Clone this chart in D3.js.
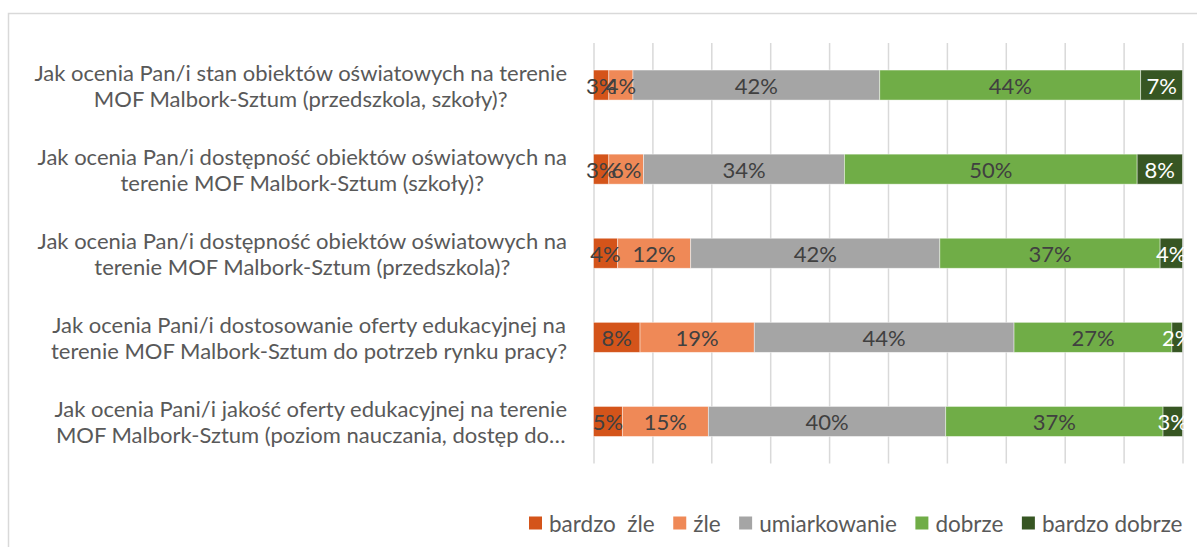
<!DOCTYPE html>
<html>
<head>
<meta charset="utf-8">
<script src="https://cdn.jsdelivr.net/npm/d3@7"></script>
<style>
  html, body { margin: 0; padding: 0; background: #fff; }
  svg { display: block; }
  text { font-family: Lato, "Liberation Sans", sans-serif; }
</style>
</head>
<body>
<svg id="chart" width="1197" height="547"></svg>
<script>
const categories = [
  "Jak ocenia Pan/i stan obiektów oświatowych na terenie\nMOF Malbork-Sztum (przedszkola, szkoły)?",
  "Jak ocenia Pan/i dostępność obiektów oświatowych na\nterenie MOF Malbork-Sztum (szkoły)?",
  "Jak ocenia Pan/i dostępność obiektów oświatowych na\nterenie MOF Malbork-Sztum (przedszkola)?",
  "Jak ocenia Pani/i dostosowanie oferty edukacyjnej na\nterenie MOF Malbork-Sztum do potrzeb rynku pracy?",
  "Jak ocenia Pani/i jakość oferty edukacyjnej na terenie\nMOF Malbork-Sztum (poziom nauczania, dostęp do…"
];
const seriesNames = ["bardzo  źle", "źle", "umiarkowanie", "dobrze", "bardzo dobrze"];
const bardzoZle    = [2.6, 2.6, 4.1, 7.9, 4.9];
const zle          = [4.1, 5.9, 12.4, 19.4, 14.6];
const umiarkowanie = [41.9, 34.1, 42.3, 44.1, 40.3];
const dobrze       = [44.3, 49.7, 37.4, 26.8, 36.9];
const bardzoDobrze = [7.1, 7.7, 3.8, 1.8, 3.3];
const xTicks = [0, 10, 20, 30, 40, 50, 60, 70, 80, 90, 100];

const seriesValues = [bardzoZle, zle, umiarkowanie, dobrze, bardzoDobrze];
const colors = ["#D4541A", "#EF8957", "#A5A5A5", "#70AD47", "#375623"];
const labelColors = ["#404040", "#404040", "#404040", "#404040", "#ffffff"];

const rows = categories.map((c, i) => {
  const r = { cat: c };
  seriesNames.forEach((s, j) => r[s] = seriesValues[j][i]);
  return r;
});

const svg = d3.select("#chart");

// chart border
svg.append("rect")
  .attr("x", 8.5).attr("y", 13.5)
  .attr("width", 1300).attr("height", 600)
  .attr("fill", "none").attr("stroke", "#d9d9d9").attr("stroke-width", 1.5);

const x = d3.scaleLinear().domain([0, 100]).range([593.5, 1182.5]);
const y = d3.scaleBand().domain(categories).range([43, 463.5])
  .paddingInner(0.643).paddingOuter(0.3215);

// gridlines
const gridAxis = d3.axisBottom(x).tickValues(xTicks).tickSize(-(463.5 - 43)).tickFormat("");
const g = svg.append("g").attr("transform", "translate(0,463.5)").call(gridAxis);
g.select(".domain").remove();
g.selectAll(".tick line").attr("stroke", "#d9d9d9").attr("stroke-width", 1.5);

// stacked bars
const stack = d3.stack().keys(seriesNames);
const stacked = stack(rows);

const layers = svg.append("g").selectAll("g").data(stacked).join("g")
  .attr("fill", (d, i) => colors[i]);

layers.selectAll("rect").data(d => d).join("rect")
  .attr("x", d => x(d[0]))
  .attr("y", d => y(d.data.cat))
  .attr("width", d => x(d[1]) - x(d[0]))
  .attr("height", y.bandwidth())
  .attr("stroke", "#ffffff").attr("stroke-opacity", 0.55).attr("stroke-width", 0.8);

// data labels
const labelsG = svg.append("g");
stacked.forEach((layer, i) => {
  labelsG.selectAll(null).data(layer).join("text")
    .attr("x", d => x((d[0] + d[1]) / 2))
    .attr("y", d => y(d.data.cat) + y.bandwidth() / 2)
    .attr("text-anchor", "middle")
    .attr("dominant-baseline", "central")
    .attr("font-size", 22)
    .attr("fill", labelColors[i])
    .text(d => Math.round(d[1] - d[0]) + "%");
});

// category labels
const catG = svg.append("g");
const rightEdge = 567;
categories.forEach(c => {
  const lines = c.split("\n");
  const cy = y(c) + y.bandwidth() / 2;
  const t = catG.append("text")
    .attr("font-size", 22)
    .attr("fill", "#595959")
    .attr("text-anchor", "middle");
  lines.forEach((ln, k) => {
    t.append("tspan")
      .attr("y", cy + (k - (lines.length - 1) / 2) * 26)
      .attr("dominant-baseline", "central")
      .text(ln);
  });
  let maxW = 0;
  t.selectAll("tspan").each(function () { maxW = Math.max(maxW, this.getComputedTextLength()); });
  t.selectAll("tspan").attr("x", rightEdge - maxW / 2);
});

// legend
const legend = svg.append("g");
let lx = 529;
const ly = 523;
seriesNames.forEach((s, i) => {
  legend.append("rect")
    .attr("x", lx).attr("y", ly - 6.5)
    .attr("width", 13).attr("height", 13)
    .attr("fill", colors[i]);
  const t = legend.append("text")
    .attr("x", lx + 20).attr("y", ly)
    .attr("dominant-baseline", "central")
    .attr("font-size", 22.5)
    .attr("fill", "#595959")
    .attr("xml:space", "preserve")
    .style("white-space", "pre")
    .text(s);
  lx += 20 + t.node().getComputedTextLength() + 18.5;
});
</script>
</body>
</html>
